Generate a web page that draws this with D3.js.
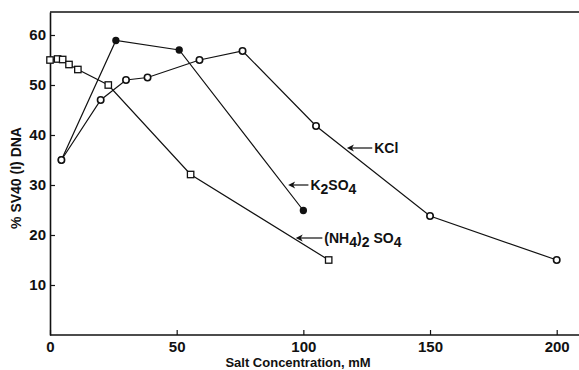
<!DOCTYPE html>
<html>
<head>
<meta charset="utf-8">
<script src="https://cdn.jsdelivr.net/npm/d3@7"></script>
<style>
	body { margin: 0; background: #fff; }
	svg text { font-family: "Liberation Sans", Arial, sans-serif; font-weight: bold; fill: #111; }
</style>
</head>
<body>
<div id="chart"></div>
<script>
// values (salt mM vs % SV40 (I) DNA)
let nh4X	= [0, 3, 5, 7.5, 11, 23, 55.5, 110];
let nh4Y	= [55, 55.2, 55.1, 54.1, 53.1, 50, 32.1, 15];
let k2so4X	= [4.5, 26, 51, 100];
let k2so4Y	= [35, 58.9, 57, 24.9];
let kclX	= [4.5, 20, 30, 38.5, 59, 76, 105, 150, 200];
let kclY	= [35, 47, 51, 51.5, 55, 56.8, 41.8, 23.8, 15];

let xTicks	= [0, 50, 100, 150, 200];
let yTicks	= [10, 20, 30, 40, 50, 60];

function createChart() {
	let canvasWidth		= 579;
	let canvasHeight	= 370;
	let ink				= "#111";

	let x = d3.scaleLinear().domain([0, 200]).range([50, 556.7]);
	let y = d3.scaleLinear().domain([0, 64.6]).range([335, 12]);

	let svg = d3.select("#chart").append("svg")
		.attr("width", canvasWidth)
		.attr("height", canvasHeight);

	// top frame line
	svg.append("line")
		.attr("x1", x(0)).attr("x2", 579)
		.attr("y1", y(64.6)).attr("y2", y(64.6))
		.attr("stroke", ink).attr("stroke-width", 1.6);

	let xAxis = svg.append("g")
		.attr("transform", "translate(0," + y(0) + ")")
		.call(d3.axisBottom(x).tickValues(xTicks).tickSizeInner(-5).tickSizeOuter(0).tickPadding(6));
	xAxis.select(".domain").attr("d", "M" + x(0) + ",0H579");

	let yAxis = svg.append("g")
		.attr("transform", "translate(" + x(0) + ",0)")
		.call(d3.axisLeft(y).tickValues(yTicks).tickSizeInner(-5).tickSizeOuter(0).tickPadding(4));

	[xAxis, yAxis].forEach((g) => {
		g.selectAll(".domain").attr("stroke", ink).attr("stroke-width", 1.6);
		g.selectAll(".tick line").attr("stroke", ink).attr("stroke-width", 1.2);
		g.selectAll(".tick text")
			.attr("fill", ink)
			.style("font-size", "15px")
			.style("font-family", "'Liberation Sans', Arial, sans-serif")
			.style("font-weight", "bold");
	});

	svg.append("text")
		.attr("x", 298).attr("y", 367)
		.attr("text-anchor", "middle")
		.style("font-size", "13px")
		.text("Salt Concentration, mM");

	svg.append("text")
		.attr("transform", "translate(21,178) rotate(-90)")
		.attr("text-anchor", "middle")
		.style("font-size", "14px")
		.text("% SV40 (I) DNA");

	let line = d3.line().x((d) => x(d[0])).y((d) => y(d[1]));
	let series = [
		{ xs: nh4X, ys: nh4Y, mark: "square" },
		{ xs: k2so4X, ys: k2so4Y, mark: "filled" },
		{ xs: kclX, ys: kclY, mark: "open" }
	];

	series.forEach((s) => {
		let pts = s.xs.map((v, i) => [v, s.ys[i]]);
		svg.append("path")
			.datum(pts)
			.attr("d", line)
			.attr("fill", "none")
			.attr("stroke", ink)
			.attr("stroke-width", 1.2);
	});

	series.forEach((s) => {
		let pts = s.xs.map((v, i) => [v, s.ys[i]]);
		if (s.mark == "square") {
			svg.selectAll(null).data(pts).enter().append("rect")
				.attr("x", (d) => x(d[0]) - 3.2).attr("y", (d) => y(d[1]) - 3.2)
				.attr("width", 6.4).attr("height", 6.4)
				.attr("fill", "#fff").attr("stroke", ink).attr("stroke-width", 1.3);
		} else {
			svg.selectAll(null).data(pts).enter().append("circle")
				.attr("cx", (d) => x(d[0])).attr("cy", (d) => y(d[1]))
				.attr("r", s.mark == "filled" ? 3 : 3.2)
				.attr("fill", s.mark == "filled" ? ink : "#fff")
				.attr("stroke", ink).attr("stroke-width", s.mark == "filled" ? 1.3 : 1.6);
		}
	});

	// arrow labels, positioned in data units
	let labels = [
		{ tip: [117.2, 37.4], len: 10, parts: [["KCl", 0]] },
		{ tip: [94, 30], len: 8, parts: [["K", 0], ["2", 4], ["SO", -4], ["4", 4]] },
		{ tip: [97, 19.4], len: 10.5, parts: [["(NH", 0], ["4", 4], [")", -4], ["2", 4], [" SO", -4], ["4", 4]] }
	];

	labels.forEach((l) => {
		let x0 = x(l.tip[0]);
		let x1 = x(l.tip[0] + l.len);
		let yy = y(l.tip[1]);
		svg.append("line")
			.attr("x1", x0 + 2).attr("x2", x1)
			.attr("y1", yy).attr("y2", yy)
			.attr("stroke", ink).attr("stroke-width", 1.2);
		svg.append("path")
			.attr("d", "M" + x0 + "," + yy + "l7,-3.5l-2,3.5l2,3.5z")
			.attr("fill", ink);
		let t = svg.append("text")
			.attr("x", x1 + 2).attr("y", yy + 5)
			.style("font-size", "14px");
		l.parts.forEach((p) => {
			t.append("tspan").attr("dy", p[1]).text(p[0]);
		});
	});
}

createChart();
</script>
</body>
</html>
